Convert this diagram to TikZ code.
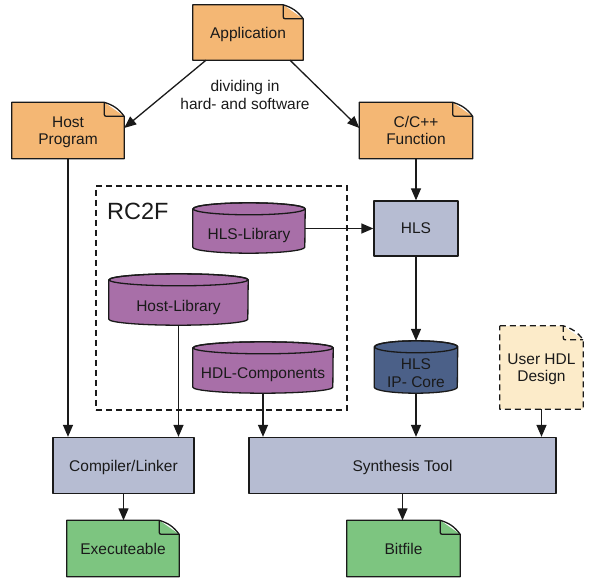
\documentclass[tikz,border=0pt]{standalone}
\usepackage{fontspec}
\setmainfont{Liberation Sans}
\usetikzlibrary{arrows.meta,backgrounds,calc}
\definecolor{orangeF}{HTML}{F4B774}
\definecolor{purpleF}{HTML}{A86FA8}
\definecolor{grayF}{HTML}{B6BCD2}
\definecolor{greenF}{HTML}{7DC580}
\definecolor{navyF}{HTML}{4B6088}
\definecolor{creamF}{HTML}{FCEBC9}
\definecolor{lineC}{HTML}{1A1A1A}
\newcommand\docbg[3]{%
  \fill[#2] (#1.north west) -- ([xshift=-20pt]#1.north east) -- ([yshift=-14pt]#1.north east) -- (#1.south east) -- (#1.south west) -- cycle;
  \draw[ln,#3] (#1.north west) -- ([xshift=-20pt]#1.north east) to[bend left=18] ([yshift=-14pt]#1.north east) -- (#1.south east) -- (#1.south west) -- cycle;
  \draw[ln,#3,rounded corners=2pt] ([xshift=-20pt]#1.north east) -- ([xshift=-20pt,yshift=-14pt]#1.north east) -- ([yshift=-14pt]#1.north east);
}
\newcommand\cylbg[3]{%
  \filldraw[ln,fill=#2] ([yshift=6pt]#1.north west) -- ([yshift=6pt]#1.south west)
    arc[start angle=180,end angle=360,x radius=#3,y radius=6pt]
    -- ([yshift=6pt]#1.north east)
    arc[start angle=0,end angle=180,x radius=#3,y radius=6pt] -- cycle;
  \draw[ln] ([yshift=6pt]#1.north) ellipse[x radius=#3,y radius=6pt];
}
\begin{document}
\begin{tikzpicture}[x=1pt,y=-1pt,
  ln/.style={draw=lineC,line width=1.3pt,line join=round},
  txt/.style={font=\fontsize{15.5}{17.5}\selectfont,align=center,text=lineC,inner sep=0pt,text depth=0pt},
  boxn/.style={txt,ln,fill=#1},
  docn/.style={txt},
  cyln/.style={txt},
  arr/.style={draw=lineC,line width=1.3pt,-{Triangle[length=12pt,width=10pt]}}]
\useasboundingbox (0,0) rectangle (595,580);

% documents
\node[docn,minimum width=110pt,minimum height=55pt] (app) at (248,32.5) {Application};
\node[docn,minimum width=112pt,minimum height=56pt] (host) at (68,130.5) {Host\\Program};
\node[docn,minimum width=113pt,minimum height=56pt] (cfun) at (416,130.5) {C/C++\\Function};
\node[docn,minimum width=83pt,minimum height=83pt] (user) at (541.5,367.5) {User HDL\\Design};
\node[docn,minimum width=112pt,minimum height=56pt] (exe) at (123,548.5) {Executeable};
\node[docn,minimum width=113pt,minimum height=56pt] (bit) at (403.5,548.5) {Bitfile};

% label
\node[txt] (div) at (245,95) {dividing in\\hard- and software};

% RC2F group
\node[draw=lineC,line width=1.3pt,dash pattern=on 6pt off 4pt,minimum width=251pt,minimum height=224pt,inner sep=0pt] (rc2f) at (221.5,298) {};
\node[font=\fontsize{23.5}{26}\selectfont,text=lineC,anchor=west,inner sep=0pt] (rc2flbl) at (107,211) {RC2F};

% cylinders (node = body below top ellipse)
\node[cyln,minimum width=112pt,minimum height=38pt] (hlslib) at (249,234) {HLS-Library};
\node[cyln,minimum width=139pt,minimum height=39pt] (hostlib) at (178.5,305.5) {Host-Library};
\node[cyln,minimum width=140pt,minimum height=39pt] (hdl) at (263,373.5) {HDL-Components};
\node[cyln,minimum width=83pt,minimum height=40pt] (ipcore) at (416,373) {HLS\\IP- Core};

% process boxes
\node[boxn=grayF,minimum width=84pt,minimum height=55pt] (hls) at (416,228.5) {HLS};
\node[boxn=grayF,minimum width=141pt,minimum height=56pt] (comp) at (123.5,465.5) {Compiler/Linker};
\node[boxn=grayF,minimum width=307pt,minimum height=56pt] (synth) at (402.5,465.5) {Synthesis Tool};

\begin{scope}[on background layer]
  \docbg{app}{orangeF}{}
  \docbg{host}{orangeF}{}
  \docbg{cfun}{orangeF}{}
  \docbg{user}{creamF}{dash pattern=on 6pt off 4pt}
  \docbg{exe}{greenF}{}
  \docbg{bit}{greenF}{}
  \cylbg{hlslib}{purpleF}{56pt}
  \cylbg{hostlib}{purpleF}{69.5pt}
  \cylbg{hdl}{purpleF}{70pt}
  \cylbg{ipcore}{navyF}{41.5pt}
\end{scope}

% connectors
\draw[arr] ([xshift=-42pt]app.south) -- ([yshift=2.5pt]host.east);
\draw[arr] ([xshift=42pt]app.south) -- ([yshift=2.5pt]cfun.west);
\draw[arr] (host.south) -- (host.south |- comp.north);
\draw[arr] (cfun.south) -- (hls.north);
\draw[arr] (hlslib.east |- hls.west) -- (hls.west);
\draw[arr] (hls.south) -- ([yshift=12pt]ipcore.north);
\draw[arr] (hostlib.south) -- (hostlib.south |- comp.north);
\draw[arr] (hdl.south) -- (hdl.south |- synth.north);
\draw[arr] (ipcore.south) -- (ipcore.south |- synth.north);
\draw[arr] (user.south) -- (user.south |- synth.north);
\draw[arr] (comp.south) -- (comp.south |- exe.north);
\draw[arr] (synth.south) -- (synth.south |- bit.north);
\end{tikzpicture}
\end{document}
